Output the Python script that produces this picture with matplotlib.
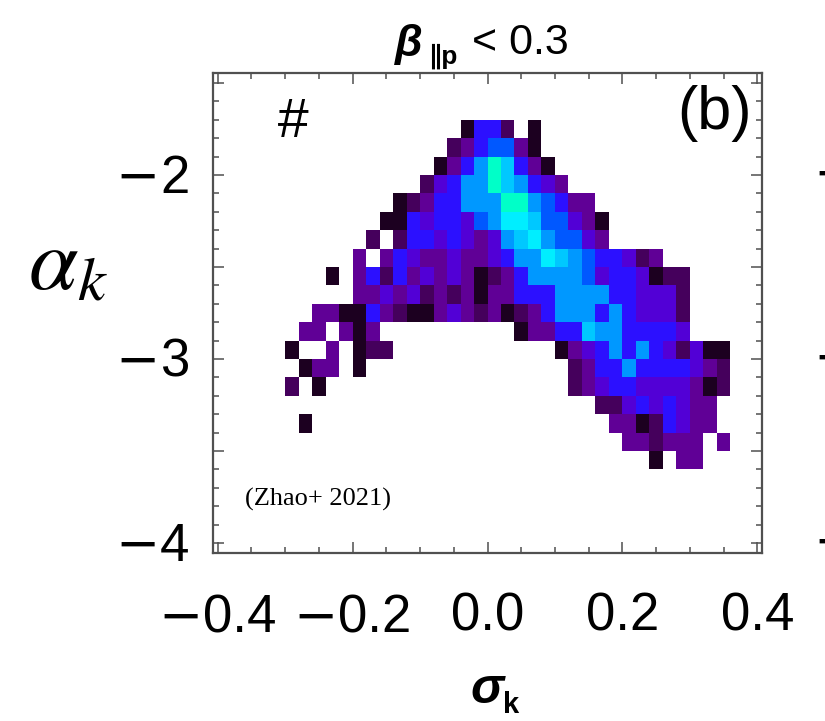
import matplotlib
matplotlib.use("Agg")
import matplotlib.pyplot as plt
import numpy as np
from matplotlib.colors import ListedColormap, BoundaryNorm
from matplotlib.ticker import MultipleLocator, NullFormatter
from matplotlib.offsetbox import TextArea, HPacker, AnnotationBbox

# sigma_k bins (0.02 wide) and alpha_k bins (0.1 high, top row first)
sigma_edges = np.round(np.arange(-0.40, 0.4001, 0.02), 2)
alpha_top = -1.7
alpha_step = 0.1

# count level per bin: (first column, levels for consecutive columns), '.' = empty
count_rows = [
    (18, "0441.0"),
    (17, "1245520"),
    (16, "024697420"),
    (15, "13466976432"),
    (13, "012446669965422"),
    (12, "00434435688755320"),
    (11, "1.1443432367865532"),
    (10, "2.243223223466876544312"),
    (8, "0.2414232320124666653443011"),
    (10, "2232312120224446666443331"),
    (7, "2200421002321201246664643331"),
    (6, "22.202" + "." * 10 + "0224476644443"),
    (5, "0..2.011" + "." * 12 + "0234646431300"),
    (6, "022.0" + "." * 15 + "124464444321"),
    (5, "1.0" + "." * 18 + "123443333201"),
    (28, "113434322"),
    (6, "0" + "." * 22 + "22014322"),
    (30, "221222.2"),
    (32, "0.22"),
]

level_colors = ["#1c0020", "#45005c", "#600096", "#5200d6", "#2c10ff",
                "#0058ff", "#0098ff", "#00c8ff", "#00eeff", "#00ffc8"]

x_ticks = [-0.4, -0.2, 0.0, 0.2, 0.4]
y_ticks = [-4, -3, -2]

n_cols = len(sigma_edges) - 1
n_rows = len(count_rows)
counts = np.full((n_rows, n_cols), np.nan)
for r, (start, levels) in enumerate(count_rows):
    for k, ch in enumerate(levels):
        if ch != ".":
            counts[r, start + k] = int(ch)
alpha_edges = alpha_top - alpha_step * np.arange(n_rows + 1)

plt.rcParams["font.family"] = ["Liberation Sans", "DejaVu Sans"]
plt.rcParams["mathtext.fontset"] = "stix"

W, H = 825, 721
fig = plt.figure(figsize=(W / 100, H / 100), dpi=100)

def fx(x):
    return x / W

def fy(y):
    return 1 - y / H

ax = fig.add_axes([fx(213), fy(553), fx(762) - fx(213), fy(73) - fy(553)])

cmap = ListedColormap(level_colors)
norm = BoundaryNorm(np.arange(-0.5, len(level_colors)), cmap.N)
ax.pcolormesh(sigma_edges, alpha_edges, np.ma.masked_invalid(counts),
              cmap=cmap, norm=norm, shading="flat")

ax.set_xlim(-0.4067, 0.4067)
ax.set_ylim(-4.054, -1.446)

frame_col = "#505050"
for sp in ax.spines.values():
    sp.set_linewidth(1.6)
    sp.set_color(frame_col)

ax.xaxis.set_major_locator(MultipleLocator(0.2))
ax.xaxis.set_minor_locator(MultipleLocator(0.05))
ax.yaxis.set_major_locator(MultipleLocator(0.5))
ax.yaxis.set_minor_locator(MultipleLocator(0.1))
ax.xaxis.set_major_formatter(NullFormatter())
ax.yaxis.set_major_formatter(NullFormatter())
ax.tick_params(which="both", direction="in", top=True, right=True,
               color=frame_col, width=1.1)
ax.tick_params(which="major", length=8)
ax.tick_params(which="minor", length=4)

LABEL_SIZE = 38

def tick_box(v, fmt):
    # wide minus from DejaVu, narrow digits from Liberation
    parts = []
    if v < 0:
        parts.append(TextArea("\u2212", textprops=dict(fontsize=LABEL_SIZE,
                                                     family="DejaVu Sans")))
    parts.append(TextArea(fmt.format(abs(v)),
                          textprops=dict(fontsize=LABEL_SIZE, family="Liberation Sans")))
    return HPacker(children=parts, pad=0, sep=0, align="baseline")

for v in x_ticks:
    ab = AnnotationBbox(tick_box(v, "{:.1f}"), (v, 0), xycoords=ax.get_xaxis_transform(),
                        xybox=(0, -28), boxcoords="offset points",
                        box_alignment=(0.5, 1), frameon=False, pad=0,
                        annotation_clip=False)
    ax.add_artist(ab)

for v in y_ticks:
    ab = AnnotationBbox(tick_box(v, "{:.0f}"), (0, v), xycoords=ax.get_yaxis_transform(),
                        xybox=(-17, -2), boxcoords="offset points",
                        box_alignment=(1, 0.5), frameon=False, pad=0,
                        annotation_clip=False)
    ax.add_artist(ab)

# title: beta_||p < 0.3
fig.text(fx(395), fy(56), "\u03b2", fontsize=32, fontweight="bold",
         style="italic", va="baseline", ha="left")
fig.text(fx(428), fy(64), "\u2225p", fontsize=19, fontweight="bold",
         va="baseline", ha="left")
fig.text(fx(472), fy(54), "< 0.3", fontsize=31, va="baseline", ha="left")

# x label: sigma_k
fig.text(fx(470), fy(703), "\u03c3", fontsize=36, fontweight="bold",
         style="italic", va="baseline", ha="left")
fig.text(fx(503), fy(713), "k", fontsize=21, fontweight="bold",
         va="baseline", ha="left")

# y label: alpha_k
fig.text(fx(28), fy(290), r"$\alpha_k$", fontsize=64, va="baseline", ha="left")

# panel annotations
ax.text(fx(277), fy(137), "#", transform=fig.transFigure, fontsize=40,
        style="italic", va="baseline", ha="left")
ax.text(fx(752), fy(129), "(b)", transform=fig.transFigure, fontsize=44,
        va="baseline", ha="right")
ax.text(fx(245), fy(506), "(Zhao+ 2021)", transform=fig.transFigure,
        fontsize=19, family="Liberation Serif", va="baseline", ha="left")

# tick labels of the neighbouring panel, cut by the figure edge
for yv in y_ticks:
    ypix = 175 + (-2 - yv) * 184
    fig.text(fx(813), fy(ypix), "\u2212" + str(-yv), fontsize=LABEL_SIZE,
             family="DejaVu Sans", va="center", ha="left")

fig.savefig("out.png", dpi=100)
